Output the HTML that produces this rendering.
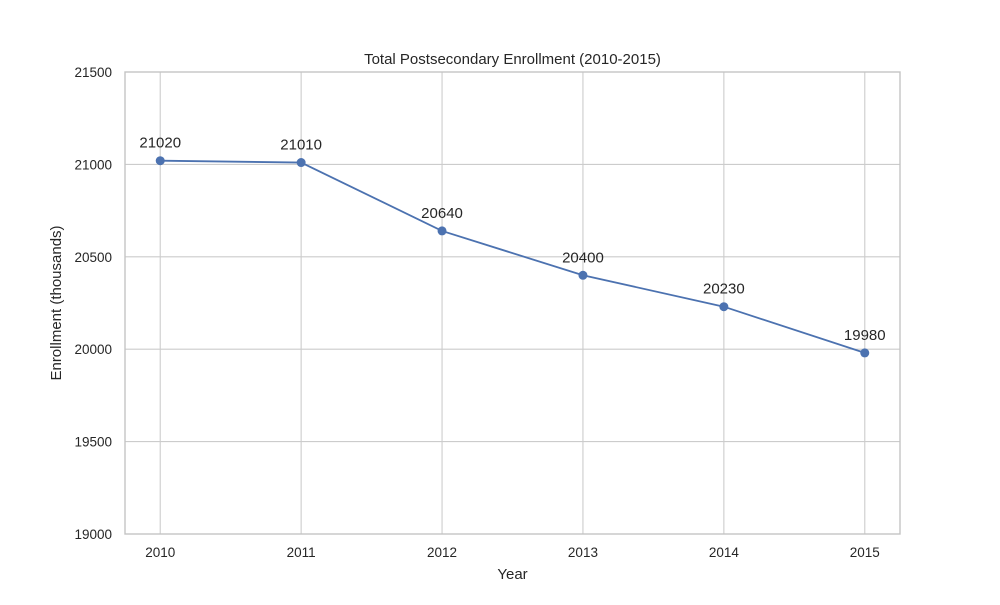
<!DOCTYPE html>
<html><head><meta charset="utf-8"><style>
body{margin:0;background:#fff;font-family:"Liberation Sans","DejaVu Sans",sans-serif;}
</style></head><body>
<svg id="chart" width="1000" height="600" xmlns="http://www.w3.org/2000/svg"></svg>
<script>
const years = [2010, 2011, 2012, 2013, 2014, 2015];
const enrollment = [21020, 21010, 20640, 20400, 20230, 19980];
const yTicks = [19000, 19500, 20000, 20500, 21000, 21500];

const L=125,R=900,T=72,B=534;
const xMin=2009.75,xMax=2015.25,yMin=19000,yMax=21500;
const xs=v=>L+(v-xMin)/(xMax-xMin)*(R-L);
const ys=v=>B-(v-yMin)/(yMax-yMin)*(B-T);
const svg=document.getElementById('chart');
const NS='http://www.w3.org/2000/svg';
function mk(tag,attrs,parent){const e=document.createElementNS(NS,tag);for(const k in attrs)e.setAttribute(k,attrs[k]);(parent||svg).appendChild(e);return e;}

const grid=mk('g',{});


years.forEach(y=>{mk('line',{x1:xs(y),x2:xs(y),y1:T,y2:B,stroke:'#cccccc','stroke-width':1.1},grid);});
yTicks.forEach(v=>{mk('line',{x1:L,x2:R,y1:ys(v),y2:ys(v),stroke:'#cccccc','stroke-width':1.1},grid);});

const frame=mk('rect',{x:L,y:T,width:R-L,height:B-T,fill:'none',stroke:'#c4c4c4','stroke-width':1.4});



years.forEach(y=>{const t=mk('text',{x:xs(y),y:B+23,'text-anchor':'middle','font-size':13.5,fill:'#262626'});t.textContent=y;

});
yTicks.forEach(v=>{const t=mk('text',{x:L-13,y:ys(v)+5,'text-anchor':'end','font-size':13.5,fill:'#262626'});t.textContent=v;

});

const pts=years.map((y,i)=>xs(y)+','+ys(enrollment[i])).join(' ');
const line=mk('polyline',{points:pts,fill:'none',stroke:'#4c72b0','stroke-width':1.8});


years.forEach((y,i)=>{
 const c=mk('circle',{cx:xs(y),cy:ys(enrollment[i]),r:4.5,fill:'#4c72b0'});
 
 
 const t=mk('text',{x:xs(y),y:ys(enrollment[i])-13,'text-anchor':'middle','font-size':15,fill:'#262626'});
 t.textContent=enrollment[i];
 
 
});

const title=mk('text',{x:(L+R)/2,y:64,'text-anchor':'middle','font-size':15,fill:'#262626'});
title.textContent='Total Postsecondary Enrollment (2010-2015)';


const xt=mk('text',{x:(L+R)/2,y:579,'text-anchor':'middle','font-size':15,fill:'#262626'});
xt.textContent='Year';


const yt=mk('text',{x:0,y:0,'text-anchor':'middle','font-size':15,fill:'#262626',transform:'translate(61,'+((T+B)/2)+') rotate(-90)'});
yt.textContent='Enrollment (thousands)';


</script>
</body></html>
